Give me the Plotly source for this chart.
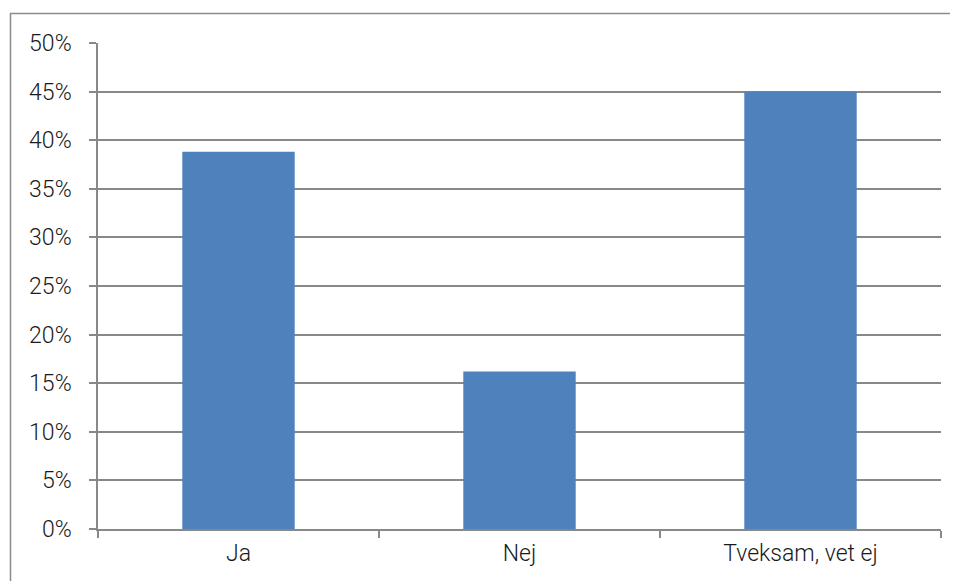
import plotly.graph_objects as go

categories = ["Ja", "Nej", "Tveksam, vet ej"]
values = [0.388, 0.162, 0.450]
y_ticks = [0, 0.05, 0.10, 0.15, 0.20, 0.25, 0.30, 0.35, 0.40, 0.45, 0.50]

OFF = 8  # page body margin offset
W, H = 958 - OFF, 581 - OFF
L, T = 98 - OFF, 43 - OFF
pw, ph = 843, 486
R, B = W - L - pw, H - T - ph

fig = go.Figure(go.Bar(x=categories, y=values, marker=dict(color="#4F81BD", line=dict(width=0))))

bx0 = (10.5 - OFF - L) / pw
by1 = 1 + (T - 13.5 + OFF) / ph
border_path = f"M {bx0},-0.3 L {bx0},{by1} L 1.2,{by1}"

grid = "#888888"
fig.update_layout(
    width=W, height=H,
    margin=dict(l=L, r=R, t=T, b=B, autoexpand=False),
    paper_bgcolor="white", plot_bgcolor="white",
    bargap=0.6,
    showlegend=False,
    font=dict(family="Roboto", size=23, color="#1a1a1a", weight=300),
    xaxis=dict(
        showline=True, linecolor=grid, linewidth=1.5,
        ticks="outside", tickson="boundaries", ticklen=7, tickcolor=grid, tickwidth=1.5,
        showgrid=False, ticklabelstandoff=3,
    ),
    yaxis=dict(
        range=[0, 0.5], tickvals=y_ticks, tickformat=".0%",
        showline=True, linecolor=grid, linewidth=1.5,
        ticks="outside", ticklen=7, tickcolor=grid, tickwidth=1.5,
        showgrid=True, gridcolor=grid, gridwidth=1.5,
        zeroline=False, ticklabelstandoff=13,
    ),
    shapes=[dict(
        type="path", xref="paper", yref="paper", path=border_path,
        line=dict(color="#8c8c8c", width=1.5), layer="below",
    )],
)

fig.write_html("out.html")
